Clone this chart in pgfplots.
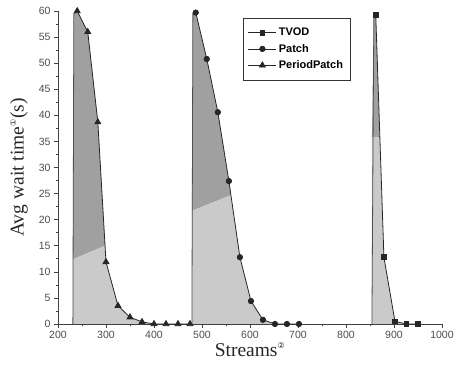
\documentclass[border=0pt]{standalone}
\usepackage{pgfplots}
\pgfplotsset{compat=1.18}
\usepackage{fontspec}
\setmainfont{Liberation Serif}
\newfontfamily\arial{Liberation Sans}
\newfontfamily\dejavu{DejaVu Sans}
\definecolor{darkfill}{RGB}{160,160,160}
\definecolor{lightfill}{RGB}{202,202,202}
\definecolor{edge}{RGB}{80,80,80}
\begin{document}
\begin{tikzpicture}
\useasboundingbox (-58pt,-51pt) rectangle (401pt,324pt);
\begin{axis}[at={(0,0)},anchor=south west,
  scale only axis, width=384pt, height=313pt,
  xmin=200, xmax=1000, ymin=0, ymax=60,
  axis lines*=left, clip=false,
  axis line style={black!75, line width=0.6pt},
  xtick={200,300,...,1000}, minor x tick num=1,
  ytick={0,5,...,60}, minor y tick num=1,
  tick align=outside, major tick length=4pt, minor tick length=2pt,
  tick style={black!75, line width=0.6pt},
  tick label style={font=\arial\fontsize{10.5}{12}\selectfont, text=black!70},
  /pgf/number format/assume math mode=true,
  /pgf/number format/1000 sep={},
  xlabel={Streams\textsuperscript{\dejavu\footnotesize ②}},
  ylabel={Avg wait time\textsuperscript{\dejavu\footnotesize ①}(s)},
  label style={font=\fontsize{19.5}{22}\selectfont, text=black!85},
  xlabel style={yshift=3pt},
  ylabel style={yshift=4pt},
  legend style={at={(axis cs:585,58.7)}, anchor=north west, draw=black!80,
    font=\arial\bfseries\fontsize{11}{12}\selectfont, row sep=3pt,
    inner xsep=5pt, inner ysep=8pt, cells={anchor=west}},
  legend image code/.code={\draw[mark repeat=2,mark phase=2] plot coordinates {(0pt,0pt)(14pt,0pt)(28pt,0pt)};},
]
% PeriodPatch area
\addplot[fill=darkfill, draw=none, forget plot] coordinates {(231,12.4)(233,59.5)(240,60)(262,56)(283,38.7)(298.1,15.0)} -- cycle;
\addplot[fill=lightfill, draw=none, forget plot] coordinates {(231,0)(231,12.4)(298.1,15.0)(300,11.9)(325,3.5)(350,1.3)(375,0.4)(400,0)} -- cycle;
\addplot[draw=edge, line width=0.8pt, forget plot] coordinates {(231,0)(233,59.5)(240,60)};
% Patch area
\addplot[fill=darkfill, draw=none, forget plot] coordinates {(479,21.7)(481,59.5)(487,59.7)(510,50.8)(533,40.6)(556,27.4)(560.2,24.7)} -- cycle;
\addplot[fill=lightfill, draw=none, forget plot] coordinates {(479,0)(479,21.7)(560.2,24.7)(579,12.8)(602,4.4)(627,0.8)(652,0)} -- cycle;
\addplot[draw=edge, line width=0.8pt, forget plot] coordinates {(479,0)(481,59.5)(487,59.7)};
% TVOD area
\addplot[fill=darkfill, draw=none, forget plot] coordinates {(854,35.7)(858,59)(862,59.2)(870.4,35.8)} -- cycle;
\addplot[fill=lightfill, draw=none, forget plot] coordinates {(854,0)(854,35.7)(870.4,35.8)(879,12.8)(902,0.5)(926,0)} -- cycle;
\addplot[draw=edge, line width=0.8pt, forget plot] coordinates {(854,0)(858,59)(862,59.2)};
% curves
\addplot[black!85, line width=0.8pt, mark=square*, mark size=2.4pt, mark options={solid,fill=black!85}] coordinates {(862,59.2)(879,12.8)(902,0.5)(926,0)(950,0)};
\addlegendentry{TVOD}
\addplot[black!85, line width=0.8pt, mark=*, mark size=2.7pt, mark options={solid,fill=black!85}] coordinates {(487,59.7)(510,50.8)(533,40.6)(556,27.4)(579,12.8)(602,4.4)(627,0.8)(652,0)(677,0)(702,0)};
\addlegendentry{Patch}
\addplot[black!85, line width=0.8pt, mark=triangle*, mark size=3.4pt, mark options={solid,fill=black!85}] coordinates {(240,60)(262,56)(283,38.7)(300,11.9)(325,3.5)(350,1.3)(375,0.4)(400,0)(425,0)(450,0)(475,0)};
\addlegendentry{PeriodPatch}
\end{axis}
\end{tikzpicture}
\end{document}
